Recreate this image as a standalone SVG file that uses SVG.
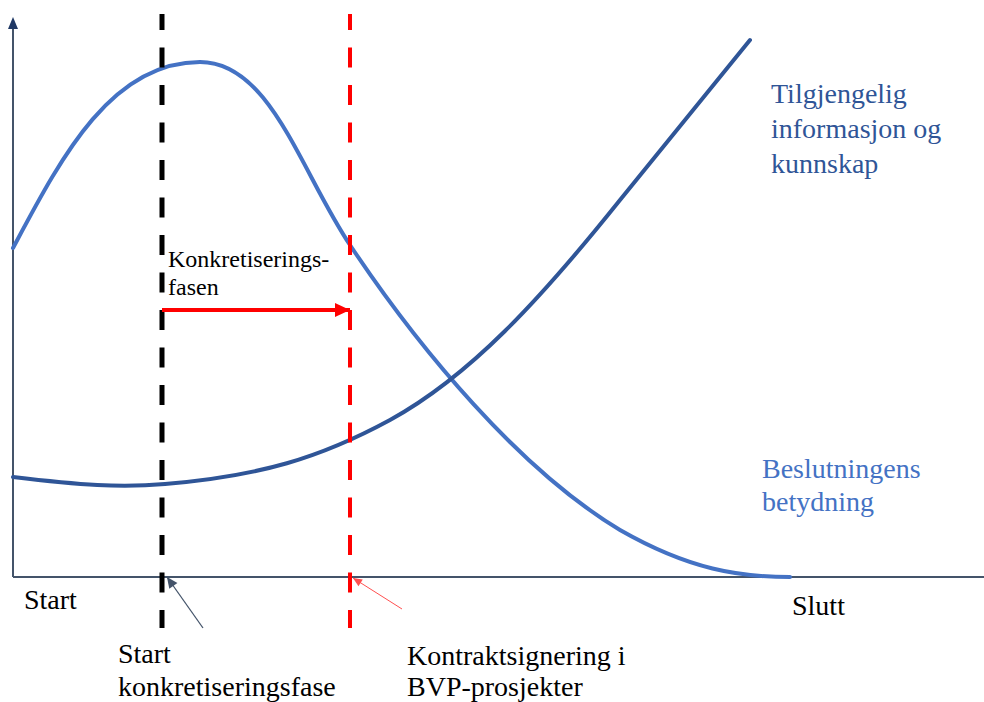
<svg xmlns="http://www.w3.org/2000/svg" width="984" height="702" viewBox="0 0 984 702">
  <defs>
    <marker id="redHead" markerUnits="userSpaceOnUse" markerWidth="16" markerHeight="14" refX="15" refY="7" orient="auto" overflow="visible">
      <path d="M0,0 L15,7 L0,14 Z" fill="#FF0000"/>
    </marker>
    <marker id="slateTip" markerUnits="userSpaceOnUse" markerWidth="12" markerHeight="10" refX="11" refY="5" orient="auto" overflow="visible">
      <path d="M0,0 L11,5 L0,10 Z" fill="#44546A"/>
    </marker>
    <marker id="redTip" markerUnits="userSpaceOnUse" markerWidth="10" markerHeight="8" refX="9" refY="4" orient="auto" overflow="visible">
      <path d="M0,0 L9,4 L0,8 Z" fill="#FF5050"/>
    </marker>
  </defs>
  <style>
    text { font-family: "Liberation Serif", "Times New Roman", serif; }
    .lbl { font-size: 28px; fill: #000000; }
    .small { font-size: 24px; fill: #000000; }
    .info { font-size: 28px; fill: #2F5597; }
    .beslut { font-size: 28px; fill: #4472C4; }
    .axis { stroke: #44546A; stroke-width: 2; fill: none; }
    .curve { fill: none; stroke-width: 4; stroke-linecap: round; stroke-linejoin: round; }
    .dash { fill: none; stroke-dasharray: 20 17.5; stroke-dashoffset: 4; }
  </style>

  <rect width="984" height="702" fill="#FFFFFF"/>

  <!-- axes -->
  <g id="axes">
    <line class="axis" x1="13" y1="577" x2="13" y2="27"/>
    <polygon points="13,17 8,29 18,29" fill="#1F3864"/>
    <line class="axis" x1="13" y1="577" x2="984" y2="577"/>
  </g>

  <!-- curves -->
  <g id="curves">
    <path id="beslutningens-curve" class="curve" stroke="#4472C4"
          d="M13,248 C60,160 110,62 200,62 C270,62 300,170 350,245 C420,350 520,470 620,530 C690,570 740,577 790,577"/>
    <path id="informasjon-curve" class="curve" stroke="#2F5597"
          d="M13,477 C80,485 120,488 165,484 C260,476 320,458 390,420 C470,376 540,300 620,200 L750,40"/>
  </g>

  <!-- phase markers -->
  <g id="start-marker">
    <line class="dash" x1="162" y1="14" x2="162" y2="628" stroke="#000000" stroke-width="5"/>
  </g>
  <g id="kontrakt-marker">
    <line class="dash" x1="350" y1="14" x2="350" y2="628" stroke="#FF0000" stroke-width="4"/>
  </g>

  <!-- connectors -->
  <g id="connectors">
    <line x1="162" y1="310" x2="350" y2="310" stroke="#FF0000" stroke-width="4" marker-end="url(#redHead)"/>
    <line x1="203" y1="628" x2="167" y2="577" stroke="#44546A" stroke-width="1.3" marker-end="url(#slateTip)"/>
    <line x1="402" y1="609" x2="353" y2="578" stroke="#FF5050" stroke-width="1" marker-end="url(#redTip)"/>
  </g>

  <!-- labels -->
  <g id="label-start">
    <text class="lbl" x="24" y="609">Start</text>
  </g>
  <g id="label-slutt">
    <text class="lbl" x="792" y="615">Slutt</text>
  </g>
  <g id="label-start-fase">
    <text class="lbl" x="118" y="663">Start</text>
    <text class="lbl" x="118" y="696">konkretiseringsfase</text>
  </g>
  <g id="label-kontrakt">
    <text class="lbl" x="407" y="665">Kontraktsignering i</text>
    <text class="lbl" x="407" y="696">BVP-prosjekter</text>
  </g>
  <g id="label-fasen">
    <text class="small" x="168" y="267">Konkretiserings-</text>
    <text class="small" x="168" y="295">fasen</text>
  </g>
  <g id="label-informasjon">
    <text class="info" x="771" y="103">Tilgjengelig</text>
    <text class="info" x="771" y="138">informasjon og</text>
    <text class="info" x="771" y="173">kunnskap</text>
  </g>
  <g id="label-beslutningens">
    <text class="beslut" x="762" y="478">Beslutningens</text>
    <text class="beslut" x="762" y="511">betydning</text>
  </g>
</svg>
